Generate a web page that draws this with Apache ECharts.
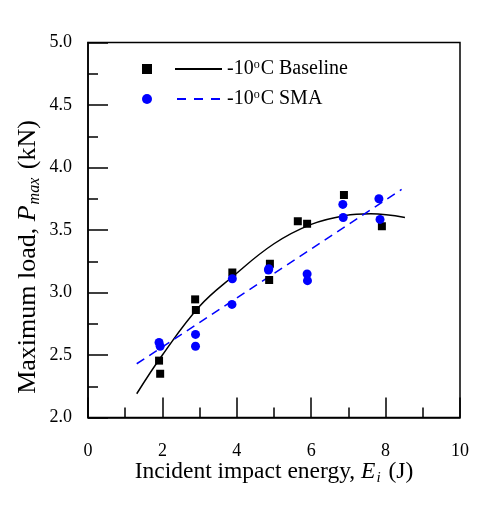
<!DOCTYPE html>
<html>
<head>
<meta charset="utf-8">
<script src="https://cdn.jsdelivr.net/npm/echarts@6/dist/echarts.min.js"></script>
<style>
html,body{margin:0;padding:0;background:#fff;}
#chart{width:503px;height:506px;}
</style>
</head>
<body>
<div id="chart"></div>
<script>
// Data
var baselineE = [1.91, 1.94, 2.88, 2.90, 3.88, 4.89, 4.87, 5.64, 5.89, 6.88, 7.90];
var baselineP = [2.455, 2.35, 2.945, 2.86, 3.16, 3.23, 3.10, 3.57, 3.55, 3.78, 3.53];
var smaE = [1.91, 1.94, 2.89, 2.89, 3.88, 3.87, 4.85, 4.86, 5.89, 5.90, 6.85, 6.86, 7.82, 7.85];
var smaP = [2.60, 2.57, 2.665, 2.57, 3.11, 2.905, 3.18, 3.19, 3.148, 3.095, 3.705, 3.60, 3.75, 3.585];
// Trend lines
var baselineFitE = [1.31, 2, 3, 3.9, 5, 6, 6.9, 7.6, 8.52];
var baselineFitP = [2.19, 2.50, 2.89, 3.13, 3.39, 3.545, 3.615, 3.63, 3.60];
var smaFitE = [1.31, 8.43];
var smaFitP = [2.43, 3.825];
var xTicks = [0, 2, 4, 6, 8, 10];
var yTicks = [2.0, 2.5, 3.0, 3.5, 4.0, 4.5, 5.0];

function zip(a, b) { return a.map(function (v, i) { return [v, b[i]]; }); }

var FONT = '"Liberation Serif", "Times New Roman", serif';
var chart = echarts.init(document.getElementById('chart'), null, {renderer: 'canvas'});

var legendRich = {
  sup: {fontFamily: FONT, fontSize: 12, verticalAlign: 'top', lineHeight: 20, padding: [0, 1, 0, 0]}
};

function titleRich(fs) {
  return {
    t: {fontFamily: FONT, fontSize: fs, color: '#000', lineHeight: fs + 4},
    i: {fontFamily: FONT, fontSize: fs, fontStyle: 'italic', color: '#000', lineHeight: fs + 4},
    s: {fontFamily: FONT, fontSize: Math.round(fs * 0.62), fontStyle: 'italic', color: '#000', verticalAlign: 'bottom', lineHeight: fs + 4, padding: [7, 2, 0, 1]}
  };
}

chart.setOption({
  animation: false,
  backgroundColor: '#fff',
  grid: {left: 88, right: 43, top: 42.5, bottom: 88.5, show: true, borderColor: '#000', borderWidth: 1.5, backgroundColor: 'transparent'},
  legend: [
    {
      orient: 'vertical', left: 137, top: 54, itemGap: 10,
      itemWidth: 10, itemHeight: 10,
      formatter: function () { return ' '; },
      textStyle: {fontFamily: FONT, fontSize: 20, lineHeight: 20},
      selectedMode: false,
      data: [
        {name: 'Baseline data', icon: 'rect', itemStyle: {color: '#000', opacity: 1}},
        {name: 'SMA data', icon: 'circle', itemStyle: {color: '#0000ff', opacity: 1}}
      ]
    },
    {
      orient: 'vertical', left: 170, top: 54, itemGap: 10,
      itemWidth: 47, itemHeight: 2,
      textStyle: {fontFamily: FONT, fontSize: 20, color: '#000', lineHeight: 20, rich: legendRich},
      selectedMode: false,
      formatter: function (n) {
        return n === 'Baseline fit' ? '-10{sup|o}C Baseline' : '-10{sup|o}C SMA';
      },
      data: [
        {name: 'Baseline fit', icon: 'rect', itemStyle: {color: '#000'}},
        {name: 'SMA fit', icon: 'path://M0,0h9v2h-9z M17,0h9v2h-9z M34,0h9v2h-9z', itemStyle: {color: '#0000ff'}}
      ]
    }
  ],
  xAxis: {
    type: 'value', min: 0, max: 10, interval: 2,
    name: '{t|Incident impact energy, }{i|E}{s|i}{t| (J)}',
    nameLocation: 'middle', nameGap: 41, nameMoveOverlap: false,
    nameTextStyle: {rich: titleRich(23.5)},
    axisLine: {show: true, lineStyle: {color: '#000', width: 1.5}},
    axisTick: {show: true, inside: true, length: 20, lineStyle: {color: '#000', width: 1.5}},
    minorTick: {show: true, splitNumber: 2, length: 10, lineStyle: {color: '#000', width: 1.5}},
    splitLine: {show: false},
    axisLabel: {fontFamily: FONT, fontSize: 18, color: '#000', margin: 25,
      formatter: function (v) { return xTicks.indexOf(v) >= 0 ? String(v) : ''; }}
  },
  yAxis: {
    type: 'value', min: 2.0, max: 5.0, interval: 0.5,
    name: '{t|Maximum load, }{i|P}{s|max}{t| (kN)}',
    nameLocation: 'middle', nameGap: 45, nameRotate: 90, nameMoveOverlap: false,
    nameTextStyle: {padding: [0, 54, 0, 0], rich: titleRich(26)},
    axisLine: {show: true, lineStyle: {color: '#000', width: 1.5}},
    axisTick: {show: true, inside: true, length: 20, lineStyle: {color: '#000', width: 1.5}},
    minorTick: {show: true, splitNumber: 2, length: 10, lineStyle: {color: '#000', width: 1.5}},
    splitLine: {show: false},
    axisLabel: {fontFamily: FONT, fontSize: 18, color: '#000', margin: 16,
      formatter: function (v) { return v.toFixed(1); }}
  },
  series: [
    {
      name: 'Baseline fit', type: 'line', data: zip(baselineFitE, baselineFitP),
      smooth: 0.4, symbol: 'none', z: 2,
      lineStyle: {color: '#000', width: 1.5}, itemStyle: {color: '#000'}
    },
    {
      name: 'SMA fit', type: 'line', data: zip(smaFitE, smaFitP),
      symbol: 'none', z: 2,
      lineStyle: {color: '#0000ff', width: 1.5, type: [9, 6]}, itemStyle: {color: '#0000ff'}
    },
    {
      name: 'Baseline data', type: 'scatter', data: zip(baselineE, baselineP),
      symbol: 'rect', symbolSize: 8, z: 3,
      itemStyle: {color: '#000', opacity: 1}
    },
    {
      name: 'SMA data', type: 'scatter', data: zip(smaE, smaP),
      symbol: 'circle', symbolSize: 9, z: 4,
      itemStyle: {color: '#0000ff', opacity: 1}
    }
  ]
});
</script>
</body>
</html>
